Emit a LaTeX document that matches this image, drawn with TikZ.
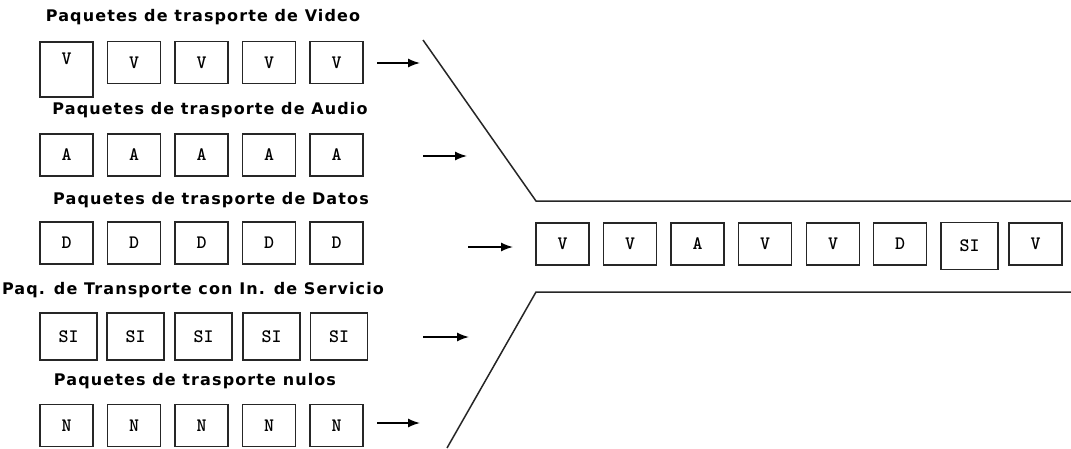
\documentclass[tikz,border=0pt]{standalone}
\usepackage{fontspec}
\usepackage{tikz}
\usetikzlibrary{arrows.meta}
\newfontfamily\headfont{DejaVu Sans}[LetterSpace=7]
\tikzset{
	pkt/.style={draw=black!85, line width=1.3pt, minimum width=53pt, minimum height=42pt, inner sep=0pt, font=\ttfamily\bfseries\fontsize{19}{19}\selectfont},
	pktsi/.style={pkt, minimum width=57pt, minimum height=47pt},
	head/.style={font=\headfont\bfseries\fontsize{16}{17}\selectfont, inner sep=0pt},
	flow/.style={line width=1.5pt, -{Latex[length=12pt,width=9pt]}},
	funnel/.style={line width=1.5pt, color=black!85}
}

\begin{document}
\begin{tikzpicture}[x=1pt, y=-1pt]
		%%%%% START %%%%%
		\useasboundingbox[fill=white] (0, 0) rectangle (1071, 448);
		
		\node[head] (tvideo) at (203, 17) {Paquetes de trasporte de Video};
		\node[pkt, minimum height=55pt, text depth=21pt] (v1) at (66.5, 69.5) {V};
		\node[pkt] (v2) at (134, 62.5) {V};
		\node[pkt] (v3) at (201.5, 62.5) {V};
		\node[pkt] (v4) at (269, 62.5) {V};
		\node[pkt] (v5) at (336.5, 62.5) {V};
		
		\node[head] (taudio) at (210, 110) {Paquetes de trasporte de Audio};
		\node[pkt] (a1) at (66.5, 155) {A};
		\node[pkt] (a2) at (134, 155) {A};
		\node[pkt] (a3) at (201.5, 155) {A};
		\node[pkt] (a4) at (269, 155) {A};
		\node[pkt] (a5) at (336.5, 155) {A};
		
		\node[head] (tdatos) at (211, 200) {Paquetes de trasporte de Datos};
		\node[pkt] (d1) at (66.5, 243) {D};
		\node[pkt] (d2) at (134, 243) {D};
		\node[pkt] (d3) at (201.5, 243) {D};
		\node[pkt] (d4) at (269, 243) {D};
		\node[pkt] (d5) at (336.5, 243) {D};
		
		\node[head] (tservicio) at (193, 290) {Paq. de Transporte con In. de Servicio};
		\node[pktsi] (si1) at (68.5, 336.5) {SI};
		\node[pktsi] (si2) at (135.5, 336.5) {SI};
		\node[pktsi] (si3) at (203.5, 336.5) {SI};
		\node[pktsi] (si4) at (271.5, 336.5) {SI};
		\node[pktsi] (si5) at (339, 336.5) {SI};
		
		\node[head] (tnulos) at (195, 381) {Paquetes de trasporte nulos};
		\node[pkt] (n1) at (66.5, 425.5) {N};
		\node[pkt] (n2) at (134, 425.5) {N};
		\node[pkt] (n3) at (201.5, 425.5) {N};
		\node[pkt] (n4) at (269, 425.5) {N};
		\node[pkt] (n5) at (336.5, 425.5) {N};
		
		% entradas al multiplexor
		\coordinate (vin) at (377, 63);  \coordinate (vout) at (420, 63);
		\coordinate (ain) at (423, 156); \coordinate (aout) at (467, 156);
		\coordinate (din) at (468, 247); \coordinate (dout) at (513, 247);
		\coordinate (sin) at (423, 337); \coordinate (sout) at (469, 337);
		\coordinate (nin) at (377, 423); \coordinate (nout) at (420, 423);
		\draw[flow] (vin) -- (vout);
		\draw[flow] (ain) -- (aout);
		\draw[flow] (din) -- (dout);
		\draw[flow] (sin) -- (sout);
		\draw[flow] (nin) -- (nout);
		
		% embudo
		\draw[funnel] (423, 40) -- (536, 201) -- (1071, 201);
		\draw[funnel] (447, 448) -- (536, 292) -- (1071, 292);
		
		% flujo de transporte
		\node[pkt] (m1) at (562.5, 244) {V};
		\node[pkt] (m2) at (630, 244) {V};
		\node[pkt] (m3) at (697.5, 244) {A};
		\node[pkt] (m4) at (765, 244) {V};
		\node[pkt] (m5) at (833, 244) {V};
		\node[pkt] (m6) at (900, 244) {D};
		\node[pktsi] (m7) at (969.5, 246) {SI};
		\node[pkt] (m8) at (1035.5, 244) {V};
		
		%%%%% END %%%%%
	\end{tikzpicture}
\end{document}
